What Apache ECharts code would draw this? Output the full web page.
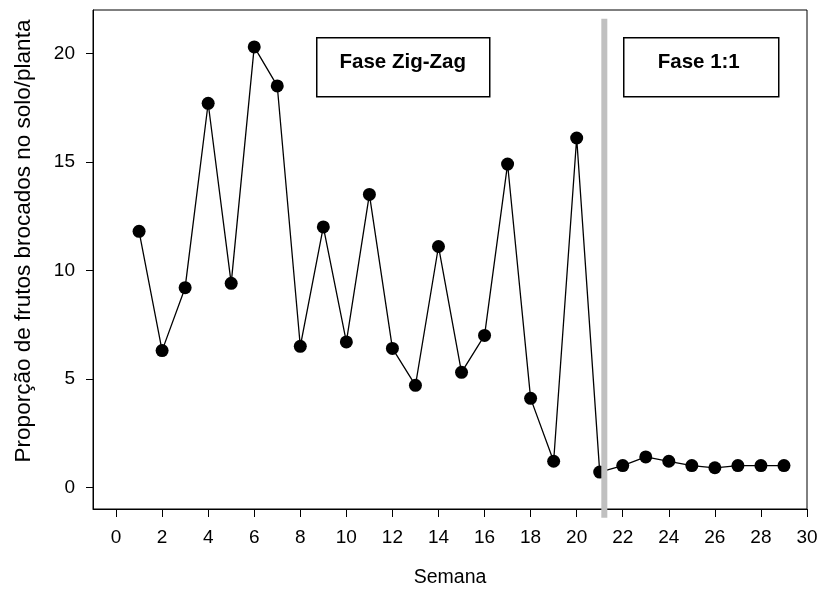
<!DOCTYPE html>
<html>
<head>
<meta charset="utf-8">
<script src="https://cdn.jsdelivr.net/npm/echarts@6/dist/echarts.min.js"></script>
<style>html,body{margin:0;padding:0;background:#fff}#c{width:821px;height:589px}</style>
</head>
<body>
<div id="c"></div>
<script>
// Data
const semanas = [1,2,3,4,5,6,7,8,9,10,11,12,13,14,15,16,17,18,19,20,21,22,23,24,25,26,27,28,29];
const proporcao = [11.8,6.3,9.2,17.7,9.4,20.3,18.5,6.5,12.0,6.7,13.5,6.4,4.7,11.1,5.3,7.0,14.9,4.1,1.2,16.1,0.7,1.0,1.4,1.2,1.0,0.9,1.0,1.0,1.0];
const xTicks = [0,2,4,6,8,10,12,14,16,18,20,22,24,26,28,30];
const yTicks = [0,5,10,15,20];
const divisaoX = 21.2;
const divisaoY = [21.6, -1.4];
const fases = ['Fase Zig-Zag', 'Fase 1:1'];

const FONT = "'Liberation Sans', Arial, Helvetica, sans-serif";
const chart = echarts.init(document.getElementById('c'), null, {renderer: 'canvas'});

const option = {
  backgroundColor: '#fff',
  animation: false,
  grid: {left: 93, right: 14, top: 10, bottom: 80, outerBoundsMode: 'none', containLabel: false,
         show: true, borderColor: '#000', borderWidth: 1, backgroundColor: 'transparent'},
  xAxis: {
    type: 'value', min: -1, max: 30,
    name: 'Semana', nameLocation: 'middle', nameGap: 59,
    nameTextStyle: {fontFamily: FONT, fontSize: 19.5, color: '#000'},
    axisLine: {show: true, onZero: false, lineStyle: {color: '#000', width: 1}},
    axisTick: {show: true, length: 8, customValues: xTicks, lineStyle: {color: '#000'}},
    axisLabel: {customValues: xTicks, margin: 19, fontFamily: FONT, fontSize: 19, color: '#000'},
    splitLine: {show: false}
  },
  yAxis: {
    type: 'value', min: -1, max: 22,
    name: 'Proporção de frutos brocados no solo/planta', nameLocation: 'middle', nameGap: 58,
    nameTextStyle: {fontFamily: FONT, fontSize: 22.5, color: '#000', padding: [0, 0, 0, 37]},
    axisLine: {show: true, onZero: false, lineStyle: {color: '#000', width: 1}},
    axisTick: {show: true, length: 7, customValues: yTicks, lineStyle: {color: '#000'}},
    axisLabel: {customValues: yTicks, margin: 18, fontFamily: FONT, fontSize: 19, color: '#000'},
    splitLine: {show: false}
  },
  series: [
    {
      type: 'line',
      data: semanas.map((s, i) => [s, proporcao[i]]),
      symbol: 'circle', symbolSize: 13,
      itemStyle: {color: '#000'},
      lineStyle: {color: '#000', width: 1.3},
      z: 2
    },
    {
      type: 'line',
      data: [[divisaoX, divisaoY[0]], [divisaoX, divisaoY[1]]],
      symbol: 'none', clip: false,
      lineStyle: {color: '#c0c0c0', width: 6, cap: 'butt'},
      z: 3, silent: true
    }
  ],
  graphic: [
    {type: 'group', left: 316, top: 37, children: [
      {type: 'rect', shape: {x: 0, y: 0, width: 173, height: 59}, style: {fill: '#fff', stroke: '#000', lineWidth: 1.5}},
      {type: 'text', x: 86, y: 25, style: {text: fases[0], fontFamily: FONT, fontWeight: 'bold', fontSize: 20.5, fill: '#000', align: 'center', verticalAlign: 'middle'}}
    ]},
    {type: 'group', left: 623, top: 37, children: [
      {type: 'rect', shape: {x: 0, y: 0, width: 155, height: 59}, style: {fill: '#fff', stroke: '#000', lineWidth: 1.5}},
      {type: 'text', x: 75, y: 25, style: {text: fases[1], fontFamily: FONT, fontWeight: 'bold', fontSize: 20.5, fill: '#000', align: 'center', verticalAlign: 'middle'}}
    ]}
  ]
};
chart.setOption(option);
</script>
</body>
</html>
